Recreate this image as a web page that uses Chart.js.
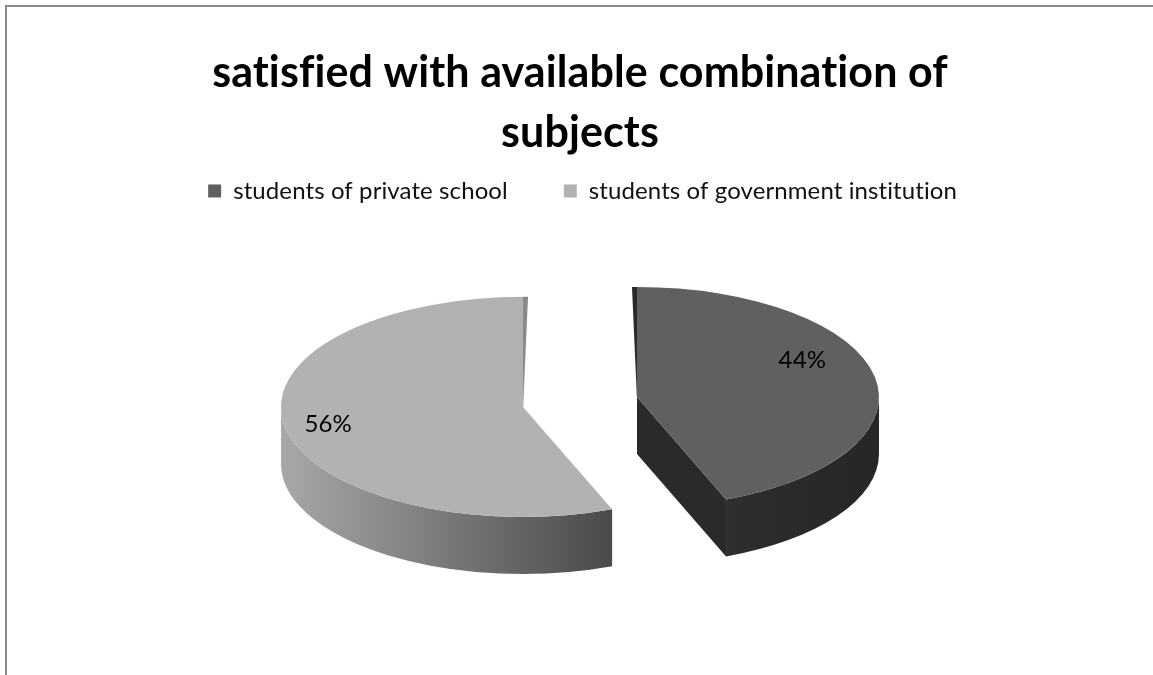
<!DOCTYPE html>
<html>
<head>
<meta charset="utf-8">
<script src="https://cdn.jsdelivr.net/npm/chart.js@4.4.1/dist/chart.umd.min.js"></script>
<style>
  html, body { margin: 0; padding: 0; background: #ffffff; overflow: hidden; }
  #frame {
    position: absolute; left: 5px; top: 5px;
    width: 1148px; height: 670px;
    border-left: 2px solid #8a8a8a; border-top: 2px solid #8a8a8a;
  }
  #c { display: block; }
</style>
</head>
<body>
<div id="frame"><canvas id="c" width="1146" height="668"></canvas></div>
<script>
// Survey answers: share of respondents satisfied with the subject combinations on offer
const categories = ['students of private school', 'students of government institution'];
const shares = [44, 56];
const titleLines = ['satisfied with available combination of', 'subjects'];

// Plain glyphs (no fi / ti ligatures) for every text drawn on the canvas
const plainText = {
  id: 'plainText',
  beforeDraw(chart) {
    if ('letterSpacing' in chart.ctx) chart.ctx.letterSpacing = '0.1px';
  }
};

// Tilted, exploded pie: Chart.js computes the arcs, this plugin squashes them into
// an ellipse, pushes each slice outward and extrudes visible walls underneath.
const pie3d = {
  id: 'pie3d',
  beforeDatasetDraw(chart, args, opts) {
    const ctx = chart.ctx;
    const arcs = args.meta.data;
    if (!arcs.length) return;
    const k = opts.tilt, D = opts.depth;
    const cx = arcs[0].x, cy = arcs[0].y;
    const cyS = opts.centerY != null ? opts.centerY : cy;
    ctx.save();
    const base = ctx.getTransform();
    const geo = arcs.map((arc) => {
      const mid = (arc.startAngle + arc.endAngle) / 2;
      return { arc, mid, dx: Math.cos(mid) * opts.explode, dy: Math.sin(mid) * opts.explode };
    });
    const setT = (g, lift, shiftX = 0) => {
      ctx.setTransform(base);
      ctx.translate(cx + g.dx + shiftX, cyS + g.dy * k + lift);
      ctx.scale(1, k);
      ctx.translate(-cx, -cy);
    };

    // walls and cut faces first
    geo.forEach((g, i) => {
      const a = g.arc, R = a.outerRadius;
      // radial faces: those turned toward the viewer get their full depth,
      // those seen edge-on show as a thin sliver next to the gap
      [[a.endAngle, Math.cos(a.endAngle), 1], [a.startAngle, -Math.cos(a.startAngle), -1]].forEach(([th, facing, side]) => {
        const ex = cx + Math.cos(th) * R, ey = cy + Math.sin(th) * R;
        ctx.beginPath();
        if (facing > 0.01) {
          setT(g, 0); ctx.moveTo(cx, cy); ctx.lineTo(ex, ey);
          setT(g, D); ctx.lineTo(ex, ey); ctx.lineTo(cx, cy);
        } else if (facing > -0.01) {
          const w = opts.sliver * side;
          setT(g, 0); ctx.moveTo(cx, cy); ctx.lineTo(ex, ey);
          setT(g, 0, w); ctx.lineTo(ex, ey);
          setT(g, 0); ctx.lineTo(cx, cy + R * 0.02);
        } else {
          return;
        }
        ctx.closePath();
        ctx.setTransform(base);
        ctx.fillStyle = opts.faceColors[i];
        ctx.fill();
      });
      // front part of the rim
      for (let s = -1; s <= 1; s++) {
        const off = s * 2 * Math.PI;
        const lo = Math.max(a.startAngle, off);
        const hi = Math.min(a.endAngle, Math.PI + off);
        if (hi - lo <= 0.001) continue;
        ctx.beginPath();
        setT(g, 0); ctx.arc(cx, cy, R, lo, hi, false);
        setT(g, D); ctx.arc(cx, cy, R, hi, lo, true);
        ctx.closePath();
        ctx.setTransform(base);
        const xs = [lo, hi].map(t => cx + g.dx + Math.cos(t) * R);
        const left = lo <= Math.PI / 2 + off && hi >= Math.PI - 0.001 + off
          ? cx + g.dx - R : Math.min(...xs);
        const grad = ctx.createLinearGradient(left, 0, Math.max(...xs), 0);
        grad.addColorStop(0, opts.wallColors[i][0]);
        grad.addColorStop(1, opts.wallColors[i][1]);
        ctx.fillStyle = grad;
        ctx.fill();
      }
    });

    // top faces, drawn by the arc elements themselves
    geo.forEach((g) => {
      setT(g, 0);
      g.arc.draw(ctx);
    });
    ctx.setTransform(base);
    ctx.restore();
    chart.$pie3d = { cx, cy, cyS, k, geo };
    return false;
  }
};

// Percentage labels on the top faces
const sliceLabels = {
  id: 'sliceLabels',
  afterDatasetsDraw(chart, args, opts) {
    const st = chart.$pie3d;
    if (!st) return;
    const ctx = chart.ctx;
    const values = chart.data.datasets[0].data;
    const total = values.reduce((s, v) => s + v, 0);
    ctx.save();
    ctx.font = opts.font;
    ctx.fillStyle = opts.color;
    ctx.textAlign = 'center';
    ctx.textBaseline = 'middle';
    st.geo.forEach((g, i) => {
      const R = g.arc.outerRadius * opts.radius[i];
      const ang = g.mid + opts.angleShift[i];
      const x = st.cx + g.dx + Math.cos(ang) * R;
      const y = st.cyS + (g.dy + Math.sin(ang) * R) * st.k;
      ctx.fillText(Math.round(values[i] / total * 100) + '%', x, y);
    });
    ctx.restore();
  }
};

new Chart(document.getElementById('c'), {
  type: 'pie',
  data: {
    labels: categories,
    datasets: [{
      data: shares,
      backgroundColor: ['#606060', '#b2b2b2'],
      borderWidth: 0,
      radius: 242
    }]
  },
  options: {
    responsive: false,
    animation: false,
    devicePixelRatio: 1,
    events: [],
    layout: { padding: 0 },
    plugins: {
      title: {
        display: true,
        text: titleLines,
        color: '#000000',
        font: { family: 'Lato', size: 43, weight: 'bold', lineHeight: 1.395 },
        padding: { top: 36, bottom: -40 }
      },
      legend: {
        display: true,
        position: 'top',
        labels: {
          boxWidth: 13,
          boxHeight: 13,
          padding: 56,
          color: '#111111',
          font: { family: 'Lato', size: 24 }
        }
      },
      tooltip: { enabled: false },
      pie3d: {
        tilt: 0.455,
        depth: 57,
        explode: 58,
        centerY: 395,
        sliver: 5,
        faceColors: ['#2a2a2a', '#8a8a8a'],
        wallColors: [['#2e2e2e', '#262626'], ['#a8a8a8', '#4a4a4a']]
      },
      sliceLabels: {
        font: '24px Lato',
        color: '#000000',
        radius: [0.76, 0.82],
        angleShift: [-0.265, 0]
      }
    }
  },
  plugins: [plainText, pie3d, sliceLabels]
});
</script>
</body>
</html>
